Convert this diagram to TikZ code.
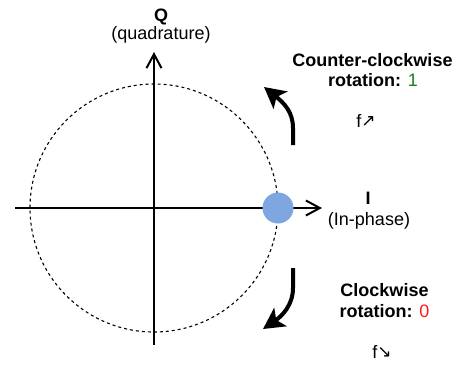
\documentclass[tikz,border=0pt]{standalone}
\usepackage{fontspec}
\setmainfont{Liberation Sans}
\newfontfamily\arrowfont{DejaVu Sans}
\usetikzlibrary{arrows.meta}
\definecolor{dotblue}{HTML}{7EA6E0}
\definecolor{onegreen}{HTML}{1A7F1A}
\definecolor{zerored}{HTML}{FF1A1A}
\begin{document}
\begin{tikzpicture}[x=1pt,y=-1pt,
  axisline/.style={line width=2pt,-{Straight Barb[length=14pt,width=15pt,line width=2pt]}},
  rotarrow/.style={line width=4pt,-{Stealth[length=21pt,width=22pt,inset=5pt]}},
  lbl/.style={anchor=base,inner sep=0pt,font=\fontsize{18}{21}\selectfont},
  blbl/.style={lbl,font=\fontsize{18}{21}\selectfont\bfseries}]
\useasboundingbox (0,0) rectangle (461,368);
\coordinate (O) at (154,208);
\coordinate (xl) at (15,208);
\coordinate (xr) at (322,208);
\coordinate (yb) at (154,345);
\coordinate (yt) at (154,52);
\draw[line width=1.1pt,dash pattern=on 3pt off 3pt] (O) circle[radius=124];
\draw[axisline] (xl) -- (xr);
\draw[axisline] (yb) -- (yt);
\node[circle,fill=dotblue,minimum size=31pt,inner sep=0pt] (dot) at (278,208) {};
% labels
\node[blbl] (Q) at (161,21.5) {Q};
\node[lbl] (Qs) at (161,39.5) {(quadrature)};
\node[blbl] (I) at (368,204) {I};
\node[lbl] (Is) at (369,225.5) {(In-phase)};
\node[blbl] (ccw1) at (372.5,66) {Counter-clockwise};
\node[blbl] (ccw2) at (373,86.7) {rotation: \textcolor{onegreen}{\mdseries 1}};
\node[lbl] (fup) at (366,127.3) {f\raisebox{0.5pt}{\arrowfont\fontsize{17}{17}\selectfont ↗}};
\node[blbl] (cw1) at (384.5,296.7) {Clockwise};
\node[blbl] (cw2) at (384.5,317.3) {rotation: \textcolor{zerored}{\mdseries 0}};
\node[lbl] (fdn) at (382,358) {f\raisebox{0.5pt}{\arrowfont\fontsize{17}{17}\selectfont ↘}};
% rotation arrows
\coordinate (a1s) at (293,145);
\coordinate (a1m) at (293,128);
\coordinate (a1e) at (264,87);
\draw[rotarrow] (a1s) -- (a1m) .. controls (293,112) and (284,103) .. (a1e);
\coordinate (a2s) at (293,268);
\coordinate (a2m) at (293,288);
\coordinate (a2e) at (263,329);
\draw[rotarrow] (a2s) -- (a2m) .. controls (293,305) and (282,316) .. (a2e);
\end{tikzpicture}
\end{document}
